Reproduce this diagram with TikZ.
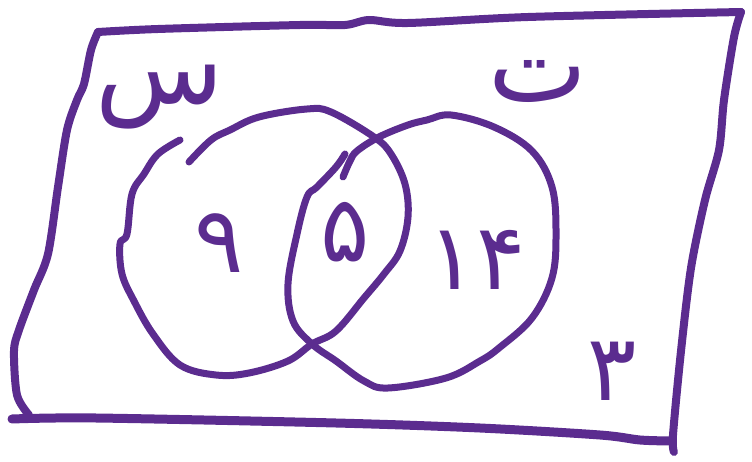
\documentclass[tikz,border=0pt]{standalone}
\usepackage{fontspec}
\newfontfamily\fa[Script=Arabic]{DejaVu Sans}
\TeXXeTstate=1
\definecolor{ink}{RGB}{91,44,143}
\begin{document}
\begin{tikzpicture}[x=1pt,y=-1pt,
  stroke/.style={draw=ink,line width=7pt,line cap=round,line join=round},
  framestroke/.style={stroke,line width=8pt},
  lbl/.style={text=ink,inner sep=0pt,font=\fa\fontsize{92}{92}\selectfont},
  biglbl/.style={lbl,font=\fa\fontsize{105}{105}\selectfont}]
\useasboundingbox (0,0) rectangle (752,462);
% frame (universal set)
\draw[framestroke] plot[smooth,tension=0.5] coordinates {(98,32) (158,29) (300,25) (345,25) (369,20) (408,23) (528,17) (741,12)};
\draw[framestroke] plot[smooth,tension=0.5] coordinates {(741,12) (734,37) (724,100) (719,150) (705,200) (691,268) (681,351) (673,435) (674,452)};
\draw[framestroke] plot[smooth,tension=0.5] coordinates {(98,32) (91,50) (84,84) (77,100) (67,130) (58,187) (48,254) (34,290) (19,330) (14,351) (17,395) (29,415)};
\draw[framestroke,line width=9pt] plot[smooth,tension=0.5] coordinates {(12,419) (96,418) (336,423) (480,428) (600,435) (640,440) (671,441)};
% left set
\draw[stroke] plot[smooth,tension=0.6] coordinates {(180,140) (158,154) (144,174) (132,194) (127,234) (120,244) (122,274) (134,301) (153,334) (180,365) (216,375) (249,373) (288,361) (312,344) (336,331) (364,298) (384,274) (400,251) (408,217) (405,184) (391,154) (374,137) (331,112) (307,109) (259,117) (230,130) (211,140) (189,162)};
% right set
\draw[stroke] plot[smooth,tension=0.6] coordinates {(345,154) (336,167) (317,187) (307,197) (297,234) (288,284) (293,321) (312,344) (336,361) (364,381) (388,388) (446,378) (480,361) (499,348) (532,318) (552,278) (556,234) (552,187) (532,151) (494,127) (451,115) (427,120) (408,125) (379,137) (357,151) (350,161) (343,177)};
% labels
\node[biglbl] (s) at (160,97) {\beginR س\endR};
\node[biglbl] (t) at (538,82) {\beginR ت\endR};
\node[lbl] (n9) at (219,243) {۹};
\node[lbl] (n5) at (345,232) {۵};
\node[lbl] (n14) at (477,260) {۱۴};
\node[lbl] (n3) at (612,371) {۳};
\end{tikzpicture}
\end{document}
